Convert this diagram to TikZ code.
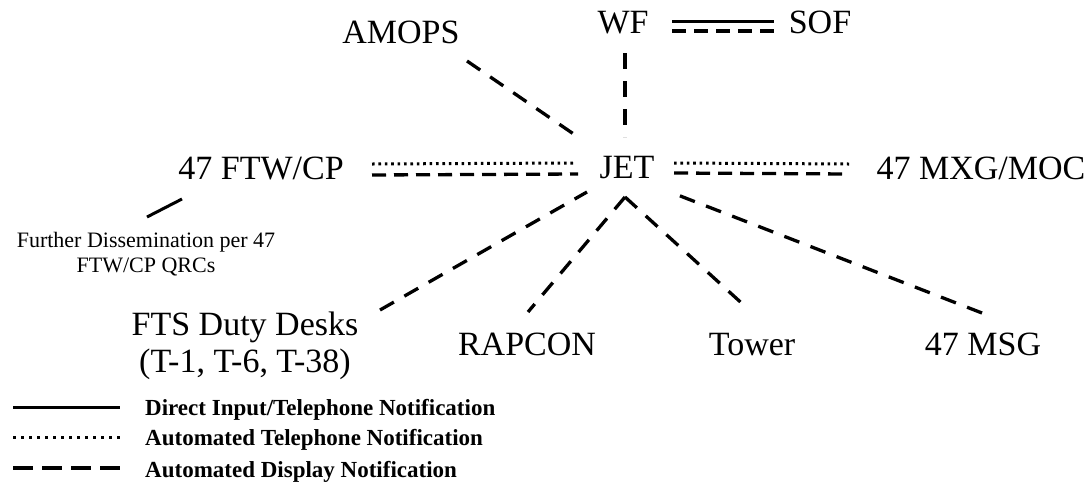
\documentclass[tikz,border=0pt]{standalone}
\usepackage{fontspec}
\setmainfont{Liberation Serif}
\usetikzlibrary{calc}
\begin{document}
\begin{tikzpicture}[x=1pt,y=-1pt,
  lbl/.style={inner sep=0pt, anchor=base, font=\fontsize{34}{37}\selectfont},
  note/.style={inner sep=0pt, align=center, font=\fontsize{22}{25}\selectfont},
  keytext/.style={inner sep=0pt, anchor=base west, font=\fontsize{23}{25}\selectfont\bfseries},
  display/.style={line width=3.3pt, dash pattern=on 16pt off 12pt},
  displayh/.style={line width=3.3pt, dash pattern=on 14pt off 8pt},
  phone/.style={line width=3pt, dash pattern=on 2.6pt off 3.8pt},
  direct/.style={line width=3pt},
  keyphone/.style={line width=3pt, dash pattern=on 3pt off 5pt},
  keydisplay/.style={line width=3.3pt, dash pattern=on 20pt off 9pt},
]
\useasboundingbox (0,0) rectangle (1092,483);

% agencies
\node[lbl] (amops) at (401,43) {AMOPS};
\node[lbl] (wf) at (623,33) {WF};
\node[lbl] (sof) at (820,33) {SOF};
\node[lbl] (jet) at (627,178) {JET};
\node[lbl] (ftw) at (261,179) {47 FTW/CP};
\node[lbl] (mxg) at (981,179) {47 MXG/MOC};
\node[lbl, anchor=north, align=center] (fts) at (245,312) {FTS Duty Desks\\(T-1, T-6, T-38)};
\node[lbl] (rapcon) at (527,355) {RAPCON};
\node[lbl] (tower) at (752,355) {Tower};
\node[lbl] (msg) at (983,355) {47 MSG};
\node[note, anchor=north] (further) at (146,232) {Further Dissemination per 47\\FTW/CP QRCs};

% links above JET
\draw[display] ($(amops.base)+(66,18)$) -- ($(jet.base)+(-49,-41)$);
\draw[display] ($(wf.base)+(2,20)$) -- ($(jet.base)+(-2,-41)$);
\draw[direct] ($(wf.base)+(49,-12)$) -- ($(sof.base)+(-46,-12)$);
\draw[displayh] ($(wf.base)+(49,-2)$) -- ($(sof.base)+(-46,-2)$);

% side links
\draw[phone] ($(ftw.base)+(111,-15)$) -- ($(jet.base)+(-53,-15)$);
\draw[displayh] ($(ftw.base)+(111,-4)$) -- ($(jet.base)+(-49,-4)$);
\draw[phone] ($(jet.base)+(47,-15)$) -- ($(mxg.base)+(-132,-15)$);
\draw[displayh] ($(jet.base)+(47,-5)$) -- ($(mxg.base)+(-132,-5)$);
\draw[direct] ($(ftw.base)+(-79,20)$) -- ($(further.north)+(1,-15)$);

% links below JET
\draw[display] ($(fts.north)+(135,-2)$) -- ($(jet.base)+(-40,14)$);
\draw[display] ($(jet.base)+(-2,19)$) -- ($(rapcon.base)+(1,-43)$);
\draw[display] ($(jet.base)+(-2,19)$) -- ($(tower.base)+(-5,-47)$);
\draw[display] ($(msg.base)+(-1,-42)$) -- ($(jet.base)+(43,14)$);

% key
\node[keytext] (key1) at (145,415) {Direct Input/Telephone Notification};
\node[keytext] (key2) at (145,445) {Automated Telephone Notification};
\node[keytext] (key3) at (145,477) {Automated Display Notification};
\draw[direct] ($(key1.base west)+(-132,-8)$) -- ($(key1.base west)+(-25,-8)$);
\draw[keyphone] ($(key2.base west)+(-132,-8)$) -- ($(key2.base west)+(-25,-8)$);
\draw[keydisplay] ($(key3.base west)+(-132,-9)$) -- ($(key3.base west)+(-25,-9)$);
\end{tikzpicture}
\end{document}
